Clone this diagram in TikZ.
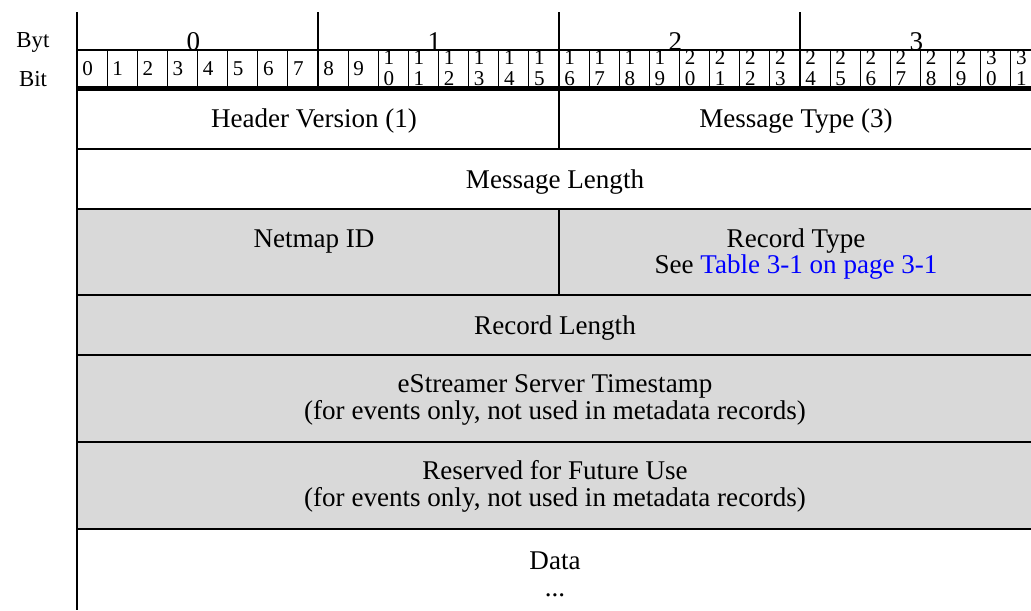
\documentclass[tikz,border=0pt]{standalone}
\usepackage{fontspec}
\setmainfont{Liberation Serif}
\definecolor{rowgray}{HTML}{D9D9D9}
\definecolor{linkblue}{RGB}{0,0,255}

\tikzset{%
  field/.style={
    anchor=base,
    inner sep=0pt,
    font=\fontsize{15.4}{18}\selectfont
  },
  sidelabel/.style={
    anchor=base,
    inner sep=0pt,
    font=\fontsize{13}{16}\selectfont
  },
  bitno/.style={
    anchor=base,
    inner sep=0pt,
    font=\fontsize{12}{14}\selectfont
  },
  thickline/.style={line width=1pt},
  thinline/.style={line width=0.6pt},
}

\begin{document}
\begin{tikzpicture}[x=0.02cm,y=-0.02cm]
\useasboundingbox (0,0) rectangle (1031,610);
\clip (0,0) rectangle (1031,610);
\fill[rowgray] (77,209) rectangle (1041,529);
\node[sidelabel] (bytlbl) at (33,47) {Byt};
\node[sidelabel] (bitlbl) at (33,86) {Bit};
\foreach \b in {0,...,3}
  \node[field] (byte\b) at ({77+(\b+0.5)*241-4},50) {\b};
\fill[white] (77,50) rectangle (1041,88);
\foreach \i in {0,...,31}{
  \pgfmathsetmacro\cx{77+(\i+0.5)*30.125-4.5}
  \ifnum\i<10
    \node[bitno] (bit\i) at (\cx,75) {\i};
  \else
    \pgfmathtruncatemacro\tens{\i/10}
    \pgfmathtruncatemacro\ones{\i-10*\tens}
    \node[bitno] (bit\i) at (\cx,64) {\tens};
    \node[bitno] (bitlo\i) at (\cx,85) {\ones};
  \fi
}
\foreach \k in {1,...,31}
  \draw[thinline] ({77+\k*30.125},50) -- ({77+\k*30.125},88);
\foreach \k in {1,2,3}
  \draw[thickline] ({77+\k*241},12) -- ({77+\k*241},88);
\draw[thinline] (77,50) -- (1041,50);
\draw[line width=2.8pt] (77,88.5) -- (1041,88.5);
\draw[thickline] (77,149) -- (1041,149);
\draw[thickline] (77,209) -- (1041,209);
\draw[thinline] (77,295) -- (1041,295);
\draw[thinline] (77,355) -- (1041,355);
\draw[thickline] (77,442) -- (1041,442);
\draw[thickline] (77,529) -- (1041,529);
\draw[thickline] (559,88) -- (559,149);
\draw[thickline] (559,209) -- (559,295);
\draw[thickline] (77,12) -- (77,610);
\node[field] (hdrver) at (314,127) {Header Version (1)};
\node[field] (msgtype) at (796,127) {Message Type (3)};
\node[field] (msglen) at (555,188) {Message Length};
\node[field] (netmap) at (314,247) {Netmap ID};
\node[field] (rectype) at (796,247) {Record Type};
\node[field] (rectypesee) at (796,273) {See \textcolor{linkblue}{Table 3-1 on page 3-1}};
\node[field] (reclen) at (555,334) {Record Length};
\node[field] (tstamp) at (555,392) {eStreamer Server Timestamp};
\node[field] (tstampnote) at (555,419) {(for events only, not used in metadata records)};
\node[field] (reserved) at (555,479) {Reserved for Future Use};
\node[field] (reservednote) at (555,506) {(for events only, not used in metadata records)};
\node[field] (data) at (555,569) {Data};
\node[field] (dots) at (555,596) {...};
\end{tikzpicture}
\end{document}
